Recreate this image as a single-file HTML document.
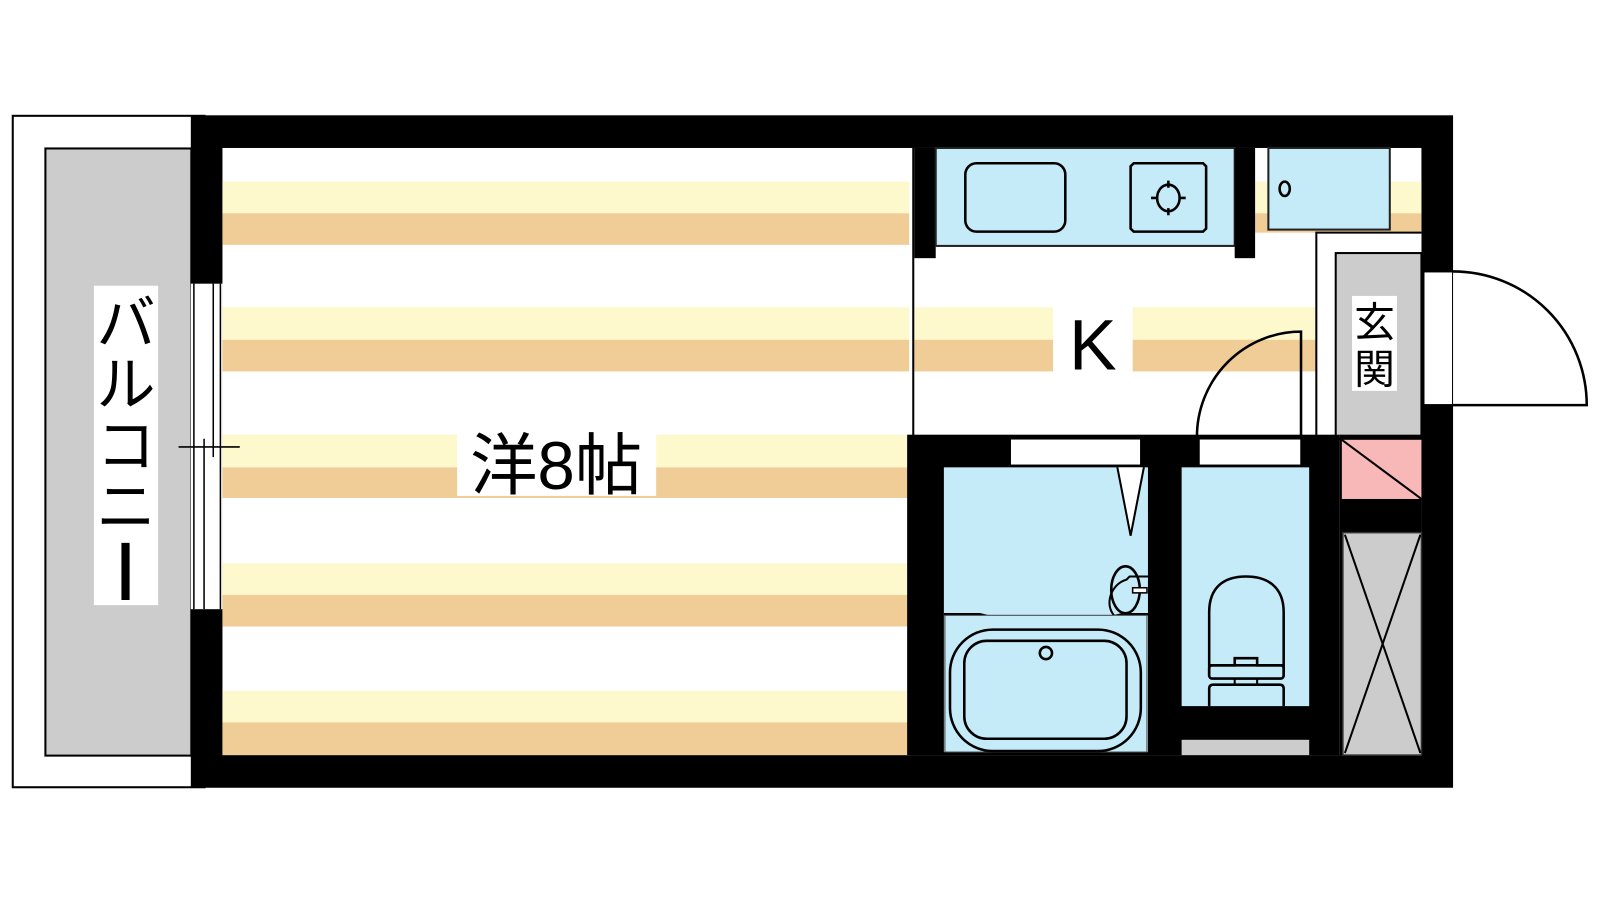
<!DOCTYPE html>
<html><head><meta charset="utf-8"><style>
html,body{margin:0;padding:0;background:#fff;width:1600px;height:900px;overflow:hidden}
svg{display:block}
text{font-family:"Liberation Sans","Noto Sans CJK JP",sans-serif}
</style></head><body>
<svg width="1600" height="900" viewBox="0 0 1568 882" xmlns="http://www.w3.org/2000/svg">
<rect width="1568" height="882" fill="#fff"/>
<!-- balcony -->
<rect x="12.5" y="113.5" width="188" height="658" fill="#fff" stroke="#000" stroke-width="2"/>
<rect x="44.5" y="145.5" width="143" height="595" fill="#cccccc" stroke="#000" stroke-width="2"/>
<rect x="92" y="280" width="63" height="313" fill="#fff"/>
<text x="123.5" y="337" font-size="58" text-anchor="middle">バ</text>
<text x="123.5" y="397" font-size="58" text-anchor="middle">ル</text>
<text x="123.5" y="457" font-size="58" text-anchor="middle">コ</text>
<text x="123.5" y="517" font-size="58" text-anchor="middle">ニ</text>
<rect x="119" y="532" width="8" height="56" fill="#000"/>
<!-- outer walls -->
<rect x="187" y="113" width="1237" height="659" fill="#000"/>
<rect x="218" y="145" width="1175" height="595" fill="#fff"/>
<!-- stripes main room -->
<g>
<rect x="218" y="178" width="673" height="31" fill="#FEF9CC"/><rect x="218" y="209" width="673" height="31" fill="#F0CD97"/>
<rect x="218" y="301" width="673" height="32" fill="#FEF9CC"/><rect x="218" y="333" width="673" height="31" fill="#F0CD97"/>
<rect x="218" y="426" width="673" height="32" fill="#FEF9CC"/><rect x="218" y="458" width="673" height="30" fill="#F0CD97"/>
<rect x="218" y="552" width="673" height="31" fill="#FEF9CC"/><rect x="218" y="583" width="673" height="31" fill="#F0CD97"/>
<rect x="218" y="677" width="673" height="31" fill="#FEF9CC"/><rect x="218" y="708" width="673" height="32" fill="#F0CD97"/>
<rect x="896" y="301" width="136" height="32" fill="#FEF9CC"/><rect x="896" y="333" width="136" height="31" fill="#F0CD97"/>
<rect x="1110" y="301" width="180" height="32" fill="#FEF9CC"/><rect x="1110" y="333" width="180" height="31" fill="#F0CD97"/>
<rect x="1230" y="178" width="163" height="31" fill="#FEF9CC"/><rect x="1230" y="209" width="163" height="19" fill="#F0CD97"/>
</g>
<!-- balcony window -->
<rect x="187" y="278" width="31" height="319" fill="#fff"/>
<line x1="190" y1="278" x2="190" y2="597" stroke="#000" stroke-width="1.5"/>
<line x1="200" y1="430" x2="200" y2="597" stroke="#000" stroke-width="1.5"/>
<line x1="209" y1="278" x2="209" y2="448" stroke="#000" stroke-width="1.5"/>
<line x1="216" y1="278" x2="216" y2="597" stroke="#000" stroke-width="1.5"/>
<line x1="175" y1="438" x2="235" y2="438" stroke="#000" stroke-width="1.5"/>
<!-- room label -->
<rect x="448" y="420" width="195" height="66" fill="#fff"/>
<text x="545" y="479" font-size="66" text-anchor="middle">洋8帖</text>
<!-- kitchen -->
<line x1="895" y1="145" x2="895" y2="430" stroke="#000" stroke-width="2"/>
<rect x="896" y="145" width="21" height="108" fill="#000"/>
<rect x="917" y="145" width="293" height="96" fill="#C5EAF8" stroke="#222" stroke-width="2"/>
<rect x="946" y="160" width="98" height="67" rx="11" fill="#C5EAF8" stroke="#000" stroke-width="2.5"/>
<path d="M1111 160 H1179 L1182 163 V224 L1179 227 H1111 L1108 224 V163 Z" fill="#C5EAF8" stroke="#000" stroke-width="2.5"/>
<ellipse cx="1145" cy="194" rx="11" ry="13" fill="none" stroke="#000" stroke-width="2.5"/>
<path d="M1145 177v7M1145 204v7M1128 194h7M1155 194h7" stroke="#000" stroke-width="2.5"/>
<rect x="1210" y="145" width="20" height="108" fill="#000"/>
<rect x="1243" y="145" width="119" height="80" fill="#C5EAF8" stroke="#222" stroke-width="2"/>
<ellipse cx="1259" cy="185" rx="5" ry="7" fill="none" stroke="#000" stroke-width="2.5"/>
<text x="1071" y="362" font-size="70" text-anchor="middle">K</text>
<!-- entrance -->
<rect x="1290" y="228" width="103" height="200" fill="#fff"/>
<path d="M1290 430 V228 H1393" fill="none" stroke="#000" stroke-width="2"/>
<rect x="1309" y="248" width="84" height="182" fill="#cccccc" stroke="#000" stroke-width="2"/>
<rect x="1325" y="290" width="44" height="93" fill="#fff"/>
<text x="1347" y="330" font-size="40" text-anchor="middle">玄</text>
<text x="1347" y="376" font-size="40" text-anchor="middle">関</text>
<rect x="1395" y="266" width="29" height="131" fill="#fff" stroke="#000" stroke-width="2"/>
<path d="M1424 266 A131 131 0 0 1 1555 397 H1424" fill="#fff" stroke="#000" stroke-width="2.5"/>
<path d="M1275 428 V325 A102 103 0 0 0 1173 428" fill="none" stroke="#000" stroke-width="2.5"/>
<!-- bath/toilet block -->
<rect x="889" y="426" width="424" height="314" fill="#000"/>
<rect x="1313" y="426" width="80" height="314" fill="#000"/>
<rect x="990" y="430" width="128" height="26" fill="#fff" stroke="#000" stroke-width="1.5"/>
<rect x="1175" y="430" width="100" height="26" fill="#fff" stroke="#000" stroke-width="1.5"/>
<rect x="925" y="458" width="200" height="279" fill="#C5EAF8"/>
<rect x="1158" y="458" width="125" height="234" fill="#C5EAF8"/>
<rect x="1158" y="725" width="125" height="15" fill="#cccccc"/>
<path d="M1095 458 L1108 525 L1121 458" fill="#fff" stroke="#000" stroke-width="2"/>
<path d="M1125 565 H1107 L1104 568 C1088 572 1078 598 1100 610" fill="none" stroke="#000" stroke-width="2"/>
<ellipse cx="1103" cy="578" rx="14" ry="23" fill="none" stroke="#000" stroke-width="2.5"/>
<rect x="1110" y="576" width="14" height="5" fill="#fff" stroke="#000" stroke-width="1.5"/>
<path d="M925 602 H960 C1010 615 1060 612 1100 602 H1125" fill="none" stroke="#000" stroke-width="2.5"/>
<rect x="926" y="603" width="198" height="134" fill="#C5EAF8" stroke="#444" stroke-width="1"/>
<rect x="931" y="617" width="187" height="119" rx="42" fill="none" stroke="#000" stroke-width="2.5"/>
<rect x="945" y="628" width="159" height="96" rx="22" fill="none" stroke="#000" stroke-width="2.5"/>
<circle cx="1025" cy="640" r="6" fill="none" stroke="#000" stroke-width="2.5"/>
<path d="M1185 663 V600 C1185 575 1200 565 1221 565 C1242 565 1258 575 1258 600 V663" fill="none" stroke="#000" stroke-width="2.5"/>
<path d="M1185 652 H1210 V645 H1232 V652 H1258" fill="none" stroke="#000" stroke-width="2.5"/>
<rect x="1185" y="652" width="73" height="13" rx="3" fill="none" stroke="#000" stroke-width="2.5"/>
<rect x="1210" y="665" width="22" height="6" fill="none" stroke="#000" stroke-width="2"/>
<path d="M1185 692 V675 Q1185 671 1189 671 H1254 Q1258 671 1258 675 V692" fill="none" stroke="#000" stroke-width="2.5"/>
<rect x="1315" y="431" width="78" height="58" fill="#F8B8B8"/>
<line x1="1315" y1="431" x2="1393" y2="489" stroke="#000" stroke-width="2"/>
<rect x="1316" y="522" width="77" height="218" fill="#cccccc" stroke="#333" stroke-width="1.5"/>
<path d="M1318 524 L1392 738 M1392 524 L1318 738" stroke="#000" stroke-width="2"/>
</svg>
</body></html>
